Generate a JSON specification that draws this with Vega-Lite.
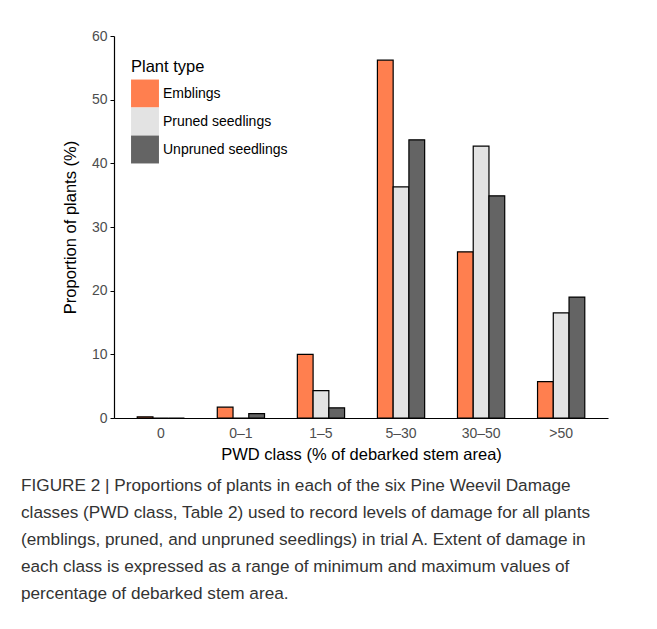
{
  "$schema": "https://vega.github.io/schema/vega-lite/v6.json",
  "width": 494,
  "height": 382,
  "padding": {"left": 21, "top": 29, "right": 5, "bottom": 5},
  "background": "white",
  "config": {
    "font": "Liberation Sans",
    "view": {"stroke": null}
  },
  "title": {
    "text": [
      "FIGURE 2 | Proportions of plants in each of the six Pine Weevil Damage",
      "classes (PWD class, Table 2) used to record levels of damage for all plants",
      "(emblings, pruned, and unpruned seedlings) in trial A. Extent of damage in",
      "each class is expressed as a range of minimum and maximum values of",
      "percentage of debarked stem area."
    ],
    "orient": "bottom",
    "anchor": "start",
    "frame": "group",
    "dx": -93,
    "offset": 14,
    "fontSize": 17.2,
    "fontWeight": "normal",
    "lineHeight": 27,
    "color": "#333333",
    "font": "Liberation Sans"
  },
  "data": {
    "values": [
      {"cls": "0", "type": "Emblings", "pct": 0.2},
      {"cls": "0", "type": "Pruned seedlings", "pct": 0.0},
      {"cls": "0", "type": "Unpruned seedlings", "pct": 0.0},
      {"cls": "0–1", "type": "Emblings", "pct": 1.7},
      {"cls": "0–1", "type": "Pruned seedlings", "pct": 0.0},
      {"cls": "0–1", "type": "Unpruned seedlings", "pct": 0.7},
      {"cls": "1–5", "type": "Emblings", "pct": 10.0},
      {"cls": "1–5", "type": "Pruned seedlings", "pct": 4.3},
      {"cls": "1–5", "type": "Unpruned seedlings", "pct": 1.6},
      {"cls": "5–30", "type": "Emblings", "pct": 56.2},
      {"cls": "5–30", "type": "Pruned seedlings", "pct": 36.3},
      {"cls": "5–30", "type": "Unpruned seedlings", "pct": 43.7},
      {"cls": "30–50", "type": "Emblings", "pct": 26.1},
      {"cls": "30–50", "type": "Pruned seedlings", "pct": 42.7},
      {"cls": "30–50", "type": "Unpruned seedlings", "pct": 34.9},
      {"cls": ">50", "type": "Emblings", "pct": 5.7},
      {"cls": ">50", "type": "Pruned seedlings", "pct": 16.5},
      {"cls": ">50", "type": "Unpruned seedlings", "pct": 19.0}
    ]
  },
  "mark": {"type": "bar", "stroke": "black", "strokeWidth": 1.2},
  "encoding": {
    "x": {
      "field": "cls",
      "type": "nominal",
      "sort": ["0", "0–1", "1–5", "5–30", "30–50", ">50"],
      "scale": {"paddingInner": 0.41, "paddingOuter": 0.29},
      "axis": {
        "title": "PWD class (% of debarked stem area)",
        "titleFontSize": 16.5,
        "titleFontWeight": "normal",
        "titleColor": "black",
        "titlePadding": 6,
        "labelAngle": 0,
        "labelFontSize": 14,
        "labelColor": "#4d4d4d",
        "labelPadding": 8,
        "ticks": false,
        "domainColor": "black",
        "domainWidth": 1.2
      }
    },
    "xOffset": {
      "field": "type",
      "type": "nominal",
      "sort": ["Emblings", "Pruned seedlings", "Unpruned seedlings"]
    },
    "y": {
      "field": "pct",
      "type": "quantitative",
      "scale": {"domain": [0, 60], "nice": false},
      "axis": {
        "title": "Proportion of plants (%)",
        "titleFontSize": 16.5,
        "titleFontWeight": "normal",
        "titleColor": "black",
        "titlePadding": 13,
        "values": [0, 10, 20, 30, 40, 50, 60],
        "grid": false,
        "labelFontSize": 14,
        "labelColor": "#4d4d4d",
        "labelPadding": 3,
        "tickSize": 4,
        "tickColor": "black",
        "domainColor": "black",
        "domainWidth": 1.2
      }
    },
    "color": {
      "field": "type",
      "type": "nominal",
      "sort": ["Emblings", "Pruned seedlings", "Unpruned seedlings"],
      "scale": {
        "domain": ["Emblings", "Pruned seedlings", "Unpruned seedlings"],
        "range": ["#ff7f4f", "#e3e3e3", "#646464"]
      },
      "legend": {
        "title": "Plant type",
        "orient": "none",
        "legendX": 17,
        "legendY": 23,
        "titleFontSize": 16.5,
        "titleFontWeight": "normal",
        "titleColor": "black",
        "titlePadding": 4,
        "labelFontSize": 14,
        "labelColor": "black",
        "labelOffset": 4,
        "symbolType": "square",
        "symbolSize": 780,
        "symbolStrokeWidth": 0,
        "symbolOpacity": 1,
        "rowPadding": 0
      }
    }
  }
}
